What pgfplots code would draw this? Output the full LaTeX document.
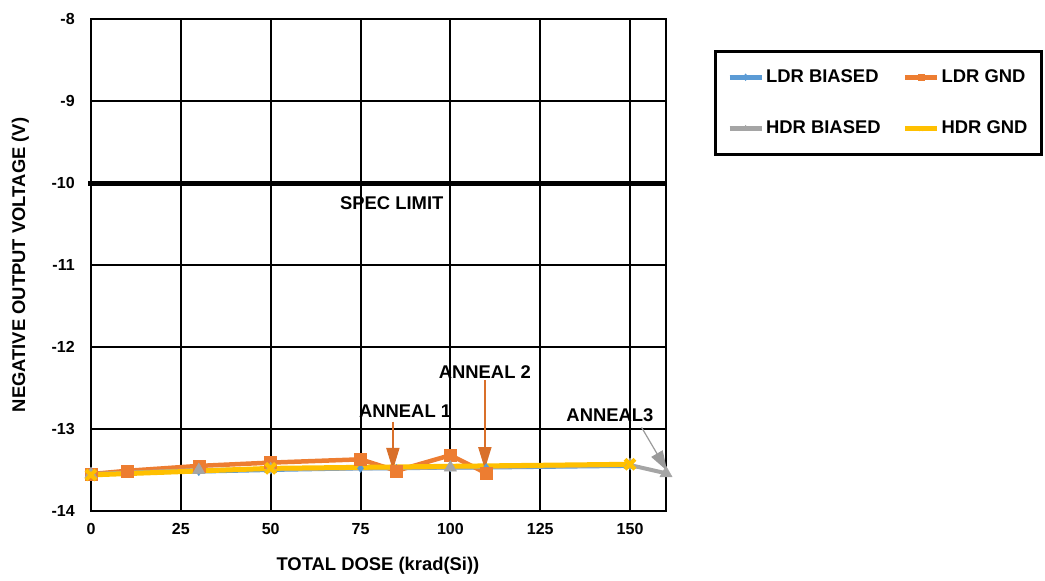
\documentclass[border=0pt]{standalone}
\usepackage{fontspec}
\setmainfont{Liberation Sans}
\usepackage{pgfplots}
\pgfplotsset{compat=1.18}
\usetikzlibrary{arrows.meta}
\definecolor{cblue}{HTML}{5B9BD5}
\definecolor{corange}{HTML}{ED7D31}
\definecolor{cgray}{HTML}{A5A5A5}
\definecolor{cyellow}{HTML}{FFC000}
\definecolor{carrow}{HTML}{D9702A}
\definecolor{cgarrow}{HTML}{9A9A9A}
\newcommand{\bigf}{\fontsize{18.4}{21}\selectfont\bfseries}
\newcommand{\tickf}{\fontsize{16}{19}\selectfont\bfseries}
\begin{document}
\bigf
\begin{tikzpicture}
\begin{axis}[
  scale only axis, width=575pt, height=492pt,
  xmin=0, xmax=160, ymin=-14, ymax=-8,
  xtick={0,25,50,75,100,125,150},
  ytick={-14,-13,-12,-11,-10,-9,-8},
  grid=major,
  grid style={black, line width=2pt},
  axis line style={black, line width=2.2pt},
  major tick length=0pt,
  clip=false,
  /pgf/number format/assume math mode=true,
  ticklabel style={font=\tickf},
  xticklabel style={yshift=-6pt},
  yticklabel style={xshift=-10pt},
  xlabel={TOTAL DOSE (krad(Si))},
  ylabel={NEGATIVE OUTPUT VOLTAGE (V)},
  xlabel style={at={(axis description cs:0.499,-0.112)}, anchor=center, font=\bigf},
  ylabel style={at={(axis description cs:-0.123,0.5)}, anchor=center, rotate=0, font=\bigf},
  legend columns=2,
  legend image code/.code={
    \draw[mark repeat=2,mark phase=2,#1] plot coordinates {(0pt,0pt)(16pt,0pt)(32pt,0pt)};
  },
  legend image post style={line width=5pt, mark size=3pt, mark options={line width=1pt}},
  legend style={at={(1.083,0.937)}, anchor=north west, draw=black, line width=2.8pt,
    font=\bigf,
    inner xsep=12pt, inner ysep=16pt,
    /tikz/every even column/.append style={column sep=20pt},
    row sep=32pt},
  legend cell align=left,
]
\addplot[cblue, line width=4pt, mark=diamond*, mark size=4pt, mark options={line width=0.5pt}]
  coordinates {(0,-13.55) (10,-13.53) (30,-13.52) (50,-13.50) (75,-13.48) (85,-13.48) (100,-13.47) (110,-13.47) (150,-13.45)};
\addlegendentry{LDR BIASED}
\addplot[corange, line width=4.5pt, mark=square*, mark size=6pt, mark options={line width=0.5pt}]
  coordinates {(0,-13.55) (10,-13.51) (30,-13.45) (50,-13.41) (75,-13.37) (85,-13.51) (100,-13.32) (110,-13.54)};
\addlegendentry{LDR GND}
\addplot[cgray, line width=4pt, mark=triangle*, mark size=7pt, mark options={line width=0.5pt}]
  coordinates {(0,-13.55) (30,-13.50) (50,-13.49) (100,-13.47) (150,-13.44) (160,-13.54)};
\addlegendentry{HDR BIASED}
\addplot[cyellow, line width=5pt, mark=x, mark size=7pt, mark options={line width=4pt}]
  coordinates {(0,-13.56) (50,-13.48) (150,-13.43)};
\addlegendentry{HDR GND}
\addplot[black, line width=5pt, forget plot] coordinates {(-0.8,-10) (160,-10)};
\node at (axis cs:83.7,-10.24) {SPEC LIMIT};
\node at (axis cs:87.4,-12.78) {ANNEAL 1};
\draw[carrow, line width=1.6pt, -{Triangle[length=22pt,width=13pt]}] (axis cs:84,-12.91) -- (axis cs:84,-13.50);
\node at (axis cs:109.6,-12.30) {ANNEAL 2};
\draw[carrow, line width=1.6pt, -{Triangle[length=22pt,width=13pt]}] (axis cs:109.6,-12.40) -- (axis cs:109.6,-13.49);
\node at (axis cs:144.4,-12.83) {ANNEAL3};
\draw[cgarrow, line width=1.2pt, -{Triangle[length=20pt,width=13pt]}] (axis cs:153.2,-12.98) -- (axis cs:160.3,-13.51);
\end{axis}
\path[use as bounding box] (-91pt,-70pt) rectangle (954pt,511pt);
\end{tikzpicture}
\end{document}
